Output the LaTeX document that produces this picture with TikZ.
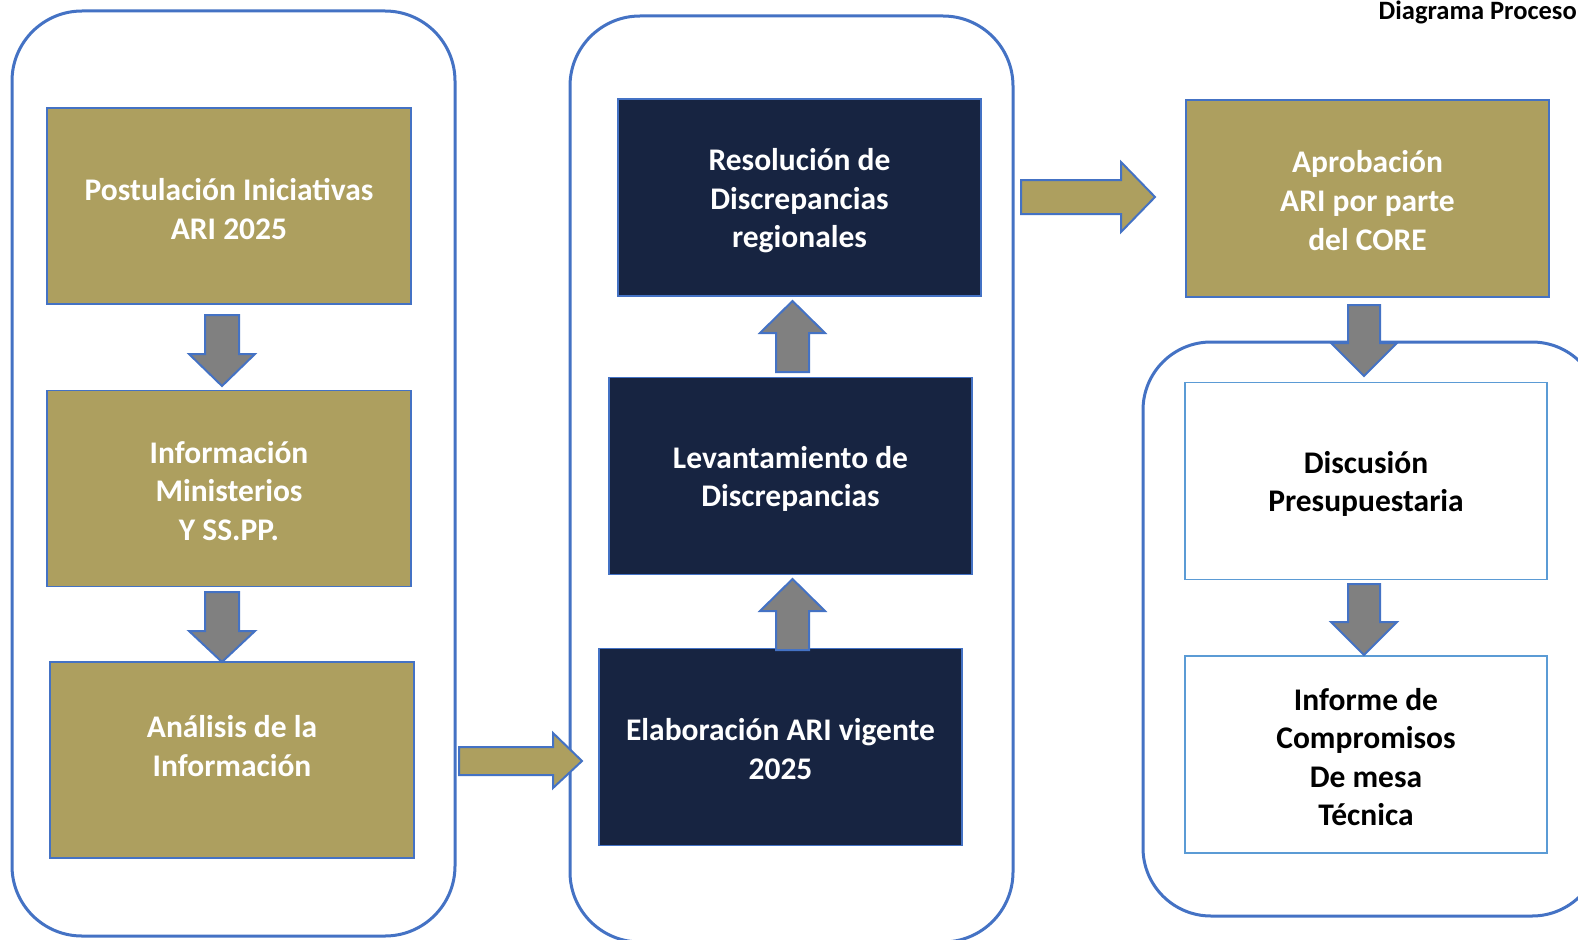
\documentclass[tikz,border=0pt]{standalone}
\usepackage{fontspec}
\setmainfont{Carlito}
\definecolor{gold}{RGB}{173,159,95}
\definecolor{navy}{RGB}{23,36,65}
\definecolor{cblue}{RGB}{68,114,196}
\definecolor{lblue}{RGB}{91,155,213}
\definecolor{agray}{RGB}{128,128,128}
\begin{document}
\begin{tikzpicture}[x=1pt,y=-1pt,
  container/.style={draw=cblue,line width=3pt,rounded corners=70pt},
  goldbox/.style={draw=cblue,line width=1.2pt,fill=gold,minimum width=364pt,minimum height=196pt,inner sep=0pt},
  navybox/.style={draw=cblue,line width=1.2pt,fill=navy,minimum width=363pt,minimum height=197pt,inner sep=0pt},
  whitebox/.style={draw=lblue,line width=1.2pt,fill=white,minimum width=362pt,minimum height=197pt,inner sep=0pt},
  txt/.style={font=\fontsize{31.5}{38.6}\selectfont\bfseries,align=center,inner sep=0pt},
  garrow/.style={draw=cblue,line width=2pt,fill=agray},
  yarrow/.style={draw=cblue,line width=2pt,fill=gold}]
\useasboundingbox (0,0) rectangle (1578,939);
\fill[white] (0,0) rectangle (1578,939);
% title
\node[anchor=base east,font=\fontsize{26.5}{30}\selectfont\bfseries,inner sep=0pt] (title) at (1577,20) {Diagrama Proceso};
% containers
\draw[container] (12,11) rectangle (455,936);
\draw[container] (570,16) rectangle (1013,942);
\draw[container,rounded corners=68pt] (1143,342) rectangle (1600,916);
% left column
\node[goldbox] (b1) at (229,206) {};
\node[txt,text=white] (b1t) at (229,209) {Postulación Iniciativas\\ARI 2025};
\node[goldbox] (b2) at (229,488.5) {};
\node[txt,text=white] (b2t) at (229,491) {Información\\Ministerios\\Y SS.PP.};
\node[goldbox] (b3) at (232,760) {};
\node[txt,text=white] (b3t) at (232,746) {Análisis de la\\Información};
% middle column
\node[navybox] (res) at (799.5,197.5) {};
\node[txt,text=white] (rest) at (799.5,201) {Resolución de\\Discrepancias\\regionales};
\node[navybox] (lev) at (790.5,476) {};
\node[txt,text=white] (levt) at (790.5,479) {Levantamiento de\\Discrepancias};
\node[navybox] (ela) at (780.5,747) {};
\node[txt,text=white] (elat) at (780.5,749) {Elaboración ARI vigente\\2025};
% right column
\node[goldbox,minimum width=363pt,minimum height=197pt] (apr) at (1367.5,198.5) {};
\node[txt,text=white] (aprt) at (1367.5,200.5) {Aprobación\\ARI por parte\\del CORE};
\node[whitebox] (dis) at (1366,481) {};
\node[txt,text=black] (dist) at (1366,484) {Discusión\\Presupuestaria};
\node[whitebox] (inf) at (1366,754.5) {};
\node[txt,text=black] (inft) at (1366,757) {Informe de\\Compromisos\\De mesa\\Técnica};
% block arrows
\draw[garrow] (205,315) -- (239,315) -- (239,354) -- (255,354) -- (222,386) -- (189,354) -- (205,354) -- cycle;
\draw[garrow] (205,592) -- (239,592) -- (239,631) -- (255,631) -- (222,662) -- (189,631) -- (205,631) -- cycle;
\draw[garrow] (776,372) -- (809,372) -- (809,333) -- (825,333) -- (792.5,301) -- (760,333) -- (776,333) -- cycle;
\draw[garrow] (776,650) -- (809,650) -- (809,611) -- (825,611) -- (792.5,579) -- (760,611) -- (776,611) -- cycle;
\draw[yarrow] (459,747) -- (553,747) -- (553,733) -- (582,761) -- (553,788) -- (553,775) -- (459,775) -- cycle;
\draw[yarrow] (1021,180) -- (1121,180) -- (1121,162) -- (1155,197) -- (1121,232) -- (1121,214) -- (1021,214) -- cycle;
\draw[garrow] (1348,305) -- (1380,305) -- (1380,343) -- (1397,343) -- (1364,376) -- (1331,343) -- (1348,343) -- cycle;
\draw[garrow] (1348,584) -- (1380,584) -- (1380,622) -- (1397,622) -- (1364,655) -- (1331,622) -- (1348,622) -- cycle;
\end{tikzpicture}
\end{document}
